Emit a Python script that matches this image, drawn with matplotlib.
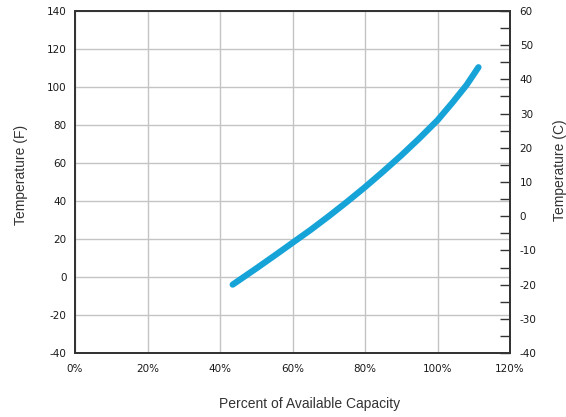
import matplotlib
matplotlib.use('Agg')
import matplotlib.pyplot as plt
import numpy as np

# capacity (%) vs temperature (F)
capacity = [43.5, 50, 55, 60, 65, 70, 75, 80, 85, 90, 95, 100, 104, 108, 111.3]
tempF = [-4, 4.5, 11.2, 18, 24.8, 32, 39.5, 47.3, 55.5, 64, 73, 82.5, 91.5, 101, 110.4]

xticks = [0, 20, 40, 60, 80, 100, 120]
fticks = [-40, -20, 0, 20, 40, 60, 80, 100, 120, 140]
cticks = [-40, -30, -20, -10, 0, 10, 20, 30, 40, 50, 60]

tickfont = {'family': 'DejaVu Sans', 'size': 7.5}
labelfont = {'family': 'Liberation Sans', 'size': 10}

fig = plt.figure(figsize=(5.66, 4.17), dpi=100)
ax = fig.add_axes([75/566, 1 - 353/417, 435/566, 342/417])

ax.plot(capacity, tempF, color='#16a3d8', lw=4.5, solid_capstyle='round',
        solid_joinstyle='round')
ax.set_xlim(0, 120)
ax.set_ylim(-40, 140)
ax.set_xticks(xticks)
ax.set_xticklabels(['%d%%' % v for v in xticks], fontdict=tickfont)
ax.set_yticks(fticks)
ax.set_yticklabels([str(v) for v in fticks], fontdict=tickfont)
ax.tick_params(axis='x', length=0, pad=8, colors='#1a1a1a')
ax.tick_params(axis='y', length=0, pad=6, colors='#1a1a1a')
ax.grid(True, color='#c4c4c4', lw=1)
for s in ax.spines.values():
    s.set_color('#333333')
    s.set_linewidth(1.3)

ax2 = ax.twinx()
ax2.set_ylim(-40, 60)
ax2.set_yticks(cticks)
ax2.set_yticklabels([str(v) for v in cticks], fontdict=tickfont)
ax2.set_yticks(np.arange(-35, 60, 10), minor=True)
ax2.tick_params(axis='y', which='both', direction='in', length=7, width=1,
                color='#333333', pad=7, colors='#1a1a1a')
for s in ax2.spines.values():
    s.set_color('#333333')
    s.set_linewidth(1.3)

fig.text(21/566, 1 - 175/417, 'Temperature (F)', rotation=90, ha='center',
         va='center', fontdict=labelfont, color='#333333')
fig.text(560/566, 1 - 170/417, 'Temperature (C)', rotation=90, ha='center',
         va='center', fontdict=labelfont, color='#333333')
fig.text(310/566, 1 - 404/417, 'Percent of Available Capacity', ha='center',
         va='center', fontdict=labelfont, color='#333333')

fig.savefig('out.png', dpi=100)
